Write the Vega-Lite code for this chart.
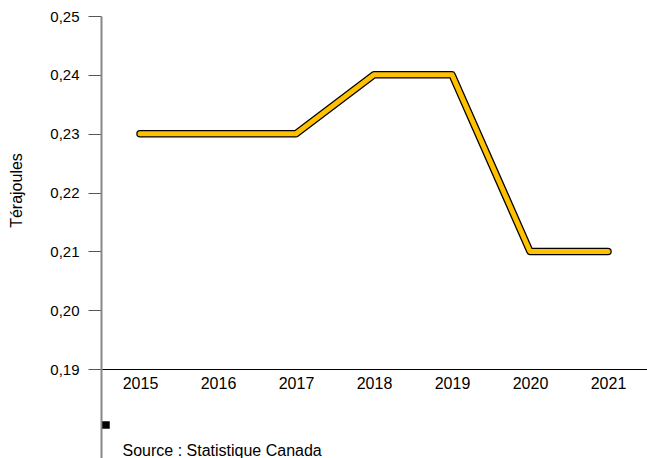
{
  "$schema": "https://vega.github.io/schema/vega-lite/v6.json",
  "width": 546,
  "height": 442,
  "autosize": {"type": "none"},
  "padding": {"left": 101, "top": 16, "right": 0, "bottom": 0},
  "background": "white",
  "config": {
    "view": {"stroke": null},
    "font": "Liberation Sans",
    "axis": {"grid": false, "labelFont": "Liberation Sans", "titleFont": "Liberation Sans", "labelColor": "#000", "titleColor": "#000", "titleFontWeight": "normal"}
  },
  "data": {"values": [
    {"year": "2015", "value": 0.23, "s": " "},
    {"year": "2016", "value": 0.23, "s": " "},
    {"year": "2017", "value": 0.23, "s": " "},
    {"year": "2018", "value": 0.24, "s": " "},
    {"year": "2019", "value": 0.24, "s": " "},
    {"year": "2020", "value": 0.21, "s": " "},
    {"year": "2021", "value": 0.21, "s": " "}
  ]},
  "encoding": {
    "x": {
      "field": "year", "type": "ordinal",
      "scale": {"type": "point", "padding": 0.5},
      "axis": {
        "orient": "bottom", "offset": -89, "labelAngle": 0, "ticks": false, "labelPadding": 6,
        "labelFontSize": 16, "domainColor": "#000", "domainWidth": 1,
        "title": "Source : Statistique Canada", "titleFontSize": 16, "titleAnchor": "start",
        "titleAlign": "left", "titleBaseline": "alphabetic", "titleX": 21, "titleY": 86
      }
    },
    "y": {
      "field": "value", "type": "quantitative",
      "scale": {"domain": [0.1749, 0.25], "nice": false, "zero": false},
      "axis": {
        "values": [0.19, 0.2, 0.21, 0.22, 0.23, 0.24, 0.25], "format": ".2f",
        "labelExpr": "replace(datum.label, '.', ',')",
        "tickSize": 13, "tickColor": "#555", "tickWidth": 1, "labelPadding": 9, "labelFontSize": 15,
        "domainColor": "#888", "domainWidth": 2,
        "title": "Térajoules", "titleFontSize": 16, "titleAngle": -90, "titleAlign": "center",
        "titleBaseline": "alphabetic", "titleX": -80, "titleY": 174
      }
    }
  },
  "layer": [
    {
      "mark": {"type": "line", "strokeWidth": 7.5, "strokeCap": "round", "strokeJoin": "round"},
      "encoding": {
        "color": {
          "field": "s", "type": "nominal",
          "scale": {"range": ["#000000"]},
          "legend": {"orient": "none", "legendX": 1, "legendY": 405, "symbolType": "square", "symbolSize": 56, "symbolFillColor": "#000", "symbolStrokeWidth": 0, "title": null, "labelFontSize": 1, "padding": 0}
        }
      }
    },
    {
      "mark": {"type": "line", "strokeWidth": 5, "strokeCap": "round", "strokeJoin": "round", "color": "#FFC000"}
    }
  ]
}
